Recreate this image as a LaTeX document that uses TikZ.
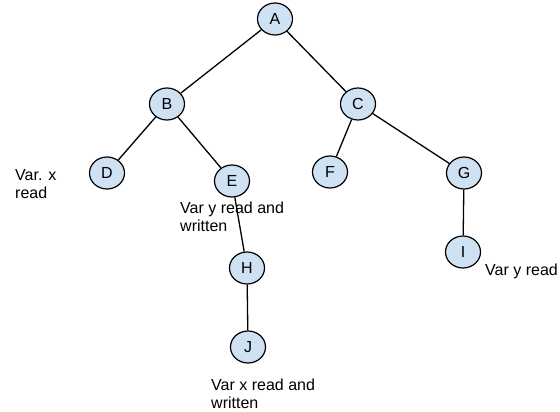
\documentclass[tikz,border=0pt]{standalone}
\usepackage{fontspec}
\setmainfont{Liberation Sans}
\usetikzlibrary{shapes.geometric}
\definecolor{nodefill}{HTML}{CFE2F3}
\begin{document}
\begin{tikzpicture}[x=1pt,y=-1pt,
  treenode/.style={ellipse,draw=black,line width=1.2pt,fill=nodefill,
    minimum width=35pt,minimum height=32pt,inner sep=0pt,
    font=\fontsize{16}{18.4}\selectfont},
  edge/.style={draw=black,line width=1.3pt},
  note/.style={anchor=north west,inner sep=0pt,align=left,
    font=\fontsize{16}{18.4}\selectfont}]
\useasboundingbox[fill=white] (0,0) rectangle (560,412);
\node[treenode] (A) at (275,19) {A};
\node[treenode] (B) at (167,104) {B};
\node[treenode] (C) at (358,104) {C};
\node[treenode] (D) at (107,173) {D};
\node[treenode] (E) at (232,181) {E};
\node[treenode] (F) at (330,172) {F};
\node[treenode] (G) at (464,173) {G};
\node[treenode] (H) at (247,268) {H};
\node[treenode] (I) at (463,252) {I};
\node[treenode] (J) at (248,347) {J};
\draw[edge] (A) -- (B);
\draw[edge] (A) -- (C);
\draw[edge] (B) -- (D);
\draw[edge] (B) -- (E);
\draw[edge] (C) -- (F);
\draw[edge] (C) -- (G);
\draw[edge] (G) -- (I);
\draw[edge] (E) -- (H);
\draw[edge] (H) -- (J);
\node[note] (n1) at (15,169.3) {Var. x\\read};
\node[note] (n2) at (180,201.3) {Var y read and\\written};
\node[note] (n3) at (485,263.3) {Var y read};
\node[note] (n4) at (211,378.3) {Var x read and\\written};
\end{tikzpicture}
\end{document}
